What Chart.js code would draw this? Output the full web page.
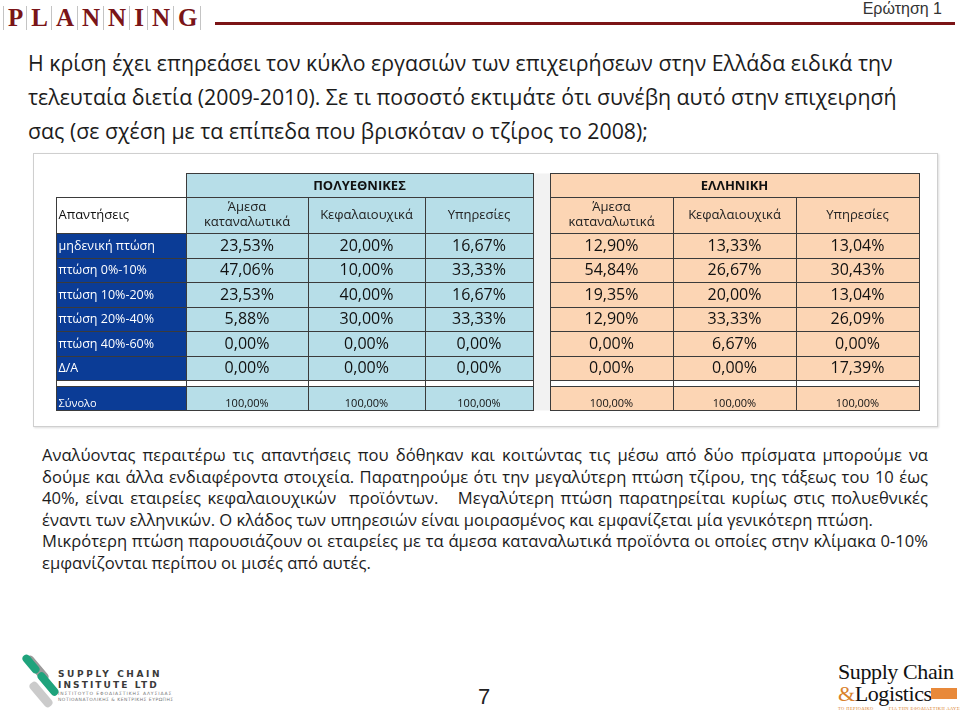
<!DOCTYPE html>
<html>
<head>
<meta charset="utf-8">
<script src="https://cdn.jsdelivr.net/npm/chart.js@4.4.1/dist/chart.umd.min.js"></script>
<style>
body{margin:0;width:960px;height:718px;position:relative;background:#fff;font-family:'Open Sans',sans-serif;overflow:hidden;color:#1a1a1a}
.abs{position:absolute;white-space:nowrap}
#logo{left:3px;top:6px;display:flex;height:24px;font-family:'Liberation Serif',serif;font-weight:bold;font-size:25px;line-height:24px;color:#7a1518}
#logo span{border-left:1px solid #c4c4c4;padding:0 3px 0 4px}
#logo span:last-child{border-right:1px solid #c4c4c4}
#rule{left:215px;top:22px;width:740px;height:3px;background:#7b1416}
#q{right:18px;top:0;font-family:'Liberation Sans',sans-serif;font-size:16px;color:#333}
#title{left:28px;top:46px;line-height:34px;color:#1c1c1c}
#box{left:33px;top:153px;width:903px;height:272px;border:1px solid #cfcfcf;box-shadow:1px 1px 2px #ddd;background:#fff}
#wrap{left:55px;top:172px;width:865px;height:239px}
#para{left:42px;top:444px;width:886px;line-height:21.6px;color:#1c1c1c}
#para div.j{text-align:justify;text-align-last:justify}
#page{left:478px;top:684px;font-family:'Liberation Sans',sans-serif;font-size:22px;color:#222}
.bar{position:absolute;border-radius:4px}
#sci{left:58px;top:669px;font-family:'DejaVu Sans',sans-serif;font-weight:bold;color:#3a3a3a}
#scl{left:838px;top:661px;font-family:'Liberation Serif',serif;color:#111;line-height:22px}
</style>
</head>
<body>
<div id="logo" class="abs"><span>P</span><span>L</span><span>A</span><span>N</span><span>N</span><span>I</span><span>N</span><span>G</span></div>
<div id="rule" class="abs"></div>
<div id="q" class="abs">Ερώτηση 1</div>

<div id="title" class="abs">
<div id="t1">Η κρίση έχει επηρεάσει τον κύκλο εργασιών των επιχειρήσεων στην Ελλάδα ειδικά την</div>
<div>τελευταία διετία (2009-2010). Σε τι ποσοστό εκτιμάτε ότι συνέβη αυτό στην επιχειρησή</div>
<div>σας (σε σχέση με τα επίπεδα που βρισκόταν ο τζίρος το 2008);</div>
</div>

<div id="box" class="abs"></div>
<div id="wrap" class="abs"><canvas id="table" width="865" height="239"></canvas></div>

<div id="para" class="abs">
<div class="j">Αναλύοντας περαιτέρω τις απαντήσεις που δόθηκαν και κοιτώντας τις μέσω από δύο πρίσματα μπορούμε να</div>
<div class="j">δούμε και άλλα ενδιαφέροντα στοιχεία. Παρατηρούμε ότι την μεγαλύτερη πτώση τζίρου, της τάξεως του 10 έως</div>
<div class="j">40%, είναι εταιρείες κεφαλαιουχικών &nbsp;προϊόντων. &nbsp; Μεγαλύτερη πτώση παρατηρείται κυρίως στις πολυεθνικές</div>
<div><span id="p4">έναντι των ελληνικών. Ο κλάδος των υπηρεσιών είναι μοιρασμένος και εμφανίζεται μία γενικότερη πτώση.</span></div>
<div class="j">Μικρότερη πτώση παρουσιάζουν οι εταιρείες με τα άμεσα καταναλωτικά προϊόντα οι οποίες στην κλίμακα 0-10%</div>
<div>εμφανίζονται περίπου οι μισές από αυτές.</div>
</div>

<!-- footer logos -->
<div class="bar" style="left:22px;top:664px;width:30px;height:9px;background:#9a9a9a;transform:rotate(50deg)"></div>
<div class="bar" style="left:20px;top:660px;width:22px;height:8px;background:#1fa37c;transform:rotate(50deg)"></div>
<div class="bar" style="left:34px;top:680px;width:28px;height:8px;background:#1fa37c;transform:rotate(50deg)"></div>
<div class="bar" style="left:26px;top:690px;width:30px;height:9px;background:#b5b5b5;transform:rotate(50deg);opacity:.7"></div>
<div id="sci" class="abs">
<div style="font-size:9px;letter-spacing:2.6px;line-height:11px">SUPPLY CHAIN</div>
<div style="font-size:9px;letter-spacing:2.1px;line-height:11px">INSTITUTE LTD</div>
<div style="font-size:4.5px;letter-spacing:.9px;line-height:6px;font-weight:normal;color:#777">ΙΝΣΤΙΤΟΥΤΟ ΕΦΟΔΙΑΣΤΙΚΗΣ ΑΛΥΣΙΔΑΣ</div>
<div style="font-size:4.5px;letter-spacing:.5px;line-height:6px;font-weight:normal;color:#777">ΝΟΤΙΟΑΝΑΤΟΛΙΚΗΣ &amp; ΚΕΝΤΡΙΚΗΣ ΕΥΡΩΠΗΣ</div>
</div>
<div id="page" class="abs">7</div>
<div id="scl" class="abs">
<div style="font-size:22px;letter-spacing:-.4px">Supply Chain</div>
<div style="font-size:22px;letter-spacing:-.4px"><span style="color:#d9822b">&amp;</span>Logistics</div>
<div style="font-size:4.5px;line-height:7px;color:#d9822b;letter-spacing:.4px">ΤΟ ΠΕΡΙΟΔΙΚΟ &nbsp;&nbsp;&nbsp;&nbsp;&nbsp;&nbsp;&nbsp;&nbsp; ΓΙΑ ΤΗΝ ΕΦΟΔΙΑΣΤΙΚΗ ΑΛΥΣΙΔΑ</div>
</div>
<div class="abs" style="left:931px;top:688px;width:26px;height:11px;background:#e8893a"></div>

<script>
// table data
const rowLabels = ["μηδενική πτώση", "πτώση 0%-10%", "πτώση 10%-20%", "πτώση 20%-40%", "πτώση 40%-60%", "Δ/Α"];
const groups = ["ΠΟΛΥΕΘΝΙΚΕΣ", "ΕΛΛΗΝΙΚΗ"];
const subHeaders = [["Άμεσα", "καταναλωτικά"], ["Κεφαλαιουχικά"], ["Υπηρεσίες"]];
const polyAmesa = [23.53, 47.06, 23.53, 5.88, 0, 0];
const polyKef = [20.00, 10.00, 40.00, 30.00, 0, 0];
const polyYp = [16.67, 33.33, 16.67, 33.33, 0, 0];
const ellAmesa = [12.90, 54.84, 19.35, 12.90, 0, 0];
const ellKef = [13.33, 26.67, 20.00, 33.33, 6.67, 0];
const ellYp = [13.04, 30.43, 13.04, 26.09, 0, 17.39];
const totalLabel = "Σύνολο";
const totals = [100, 100, 100, 100, 100, 100];

// layout: relative column widths / row heights of the grid
const colWidths = [130, 122, 117, 108, 17, 123, 123, 123];
const rowHeights = [24, 36, 24.5, 24.5, 24.5, 24.5, 24.5, 24.5, 6, 24];

const colEdges = [0];
colWidths.forEach((w) => colEdges.push(colEdges[colEdges.length - 1] + w));
const rowEdges = [0];
rowHeights.forEach((h) => rowEdges.push(rowEdges[rowEdges.length - 1] + h));

const series = [polyAmesa, polyKef, polyYp, ellAmesa, ellKef, ellYp];
const valueCols = [1, 2, 3, 5, 6, 7];
const DARK = "#0b3c96", BLUE = "#b7dee8", PEACH = "#fcd5b4", GAP = "#f2f2f2", LINE = "#3b3b3b";
const fmt = (v) => v.toFixed(2).replace(".", ",") + "%";

const tablePlugin = {
	id: "table",
	afterDraw(chart) {
		const { ctx } = chart;
		const x = chart.scales.x, y = chart.scales.y;
		const px = (c) => Math.round(x.getPixelForValue(colEdges[c])) + 0.5;
		const py = (r) => Math.round(y.getPixelForValue(rowEdges[r])) + 0.5;
		const cell = (c0, c1, r0, r1, fill, stroke) => {
			const X0 = px(c0), X1 = px(c1), Y0 = py(r0), Y1 = py(r1);
			ctx.fillStyle = fill;
			ctx.fillRect(X0, Y0, X1 - X0, Y1 - Y0);
			if (stroke) {
				ctx.strokeStyle = LINE;
				ctx.lineWidth = 1;
				ctx.strokeRect(X0, Y0, X1 - X0, Y1 - Y0);
			}
		};
		const text = (s, c0, c1, yy, font, color, align) => {
			ctx.font = font;
			ctx.fillStyle = color;
			ctx.textBaseline = "middle";
			ctx.textAlign = align || "center";
			const X = align == "left" ? px(c0) + 2 : (x.getPixelForValue(colEdges[c0]) + x.getPixelForValue(colEdges[c1])) / 2;
			ctx.fillText(s, X, yy);
		};
		const mid = (r) => (y.getPixelForValue(rowEdges[r]) + y.getPixelForValue(rowEdges[r + 1])) / 2;

		ctx.save();
		// gap column between the two tables
		cell(4, 5, 0, 10, GAP, false);
		// group headers
		cell(1, 4, 0, 1, BLUE, true);
		cell(5, 8, 0, 1, PEACH, true);
		text(groups[0], 1, 4, mid(0) + 1, "bold 13px 'Open Sans'", "#111");
		text(groups[1], 5, 8, mid(0) + 1, "bold 13px 'Open Sans'", "#111");
		// sub headers
		cell(0, 1, 1, 2, "#fff", true);
		text("Απαντήσεις", 0, 1, mid(1), "13px 'Open Sans'", "#111", "left");
		valueCols.forEach((c, i) => {
			cell(c, c + 1, 1, 2, i < 3 ? BLUE : PEACH, true);
			const lines = subHeaders[i % 3];
			lines.forEach((s, k) => {
				text(s, c, c + 1, mid(1) + (k - (lines.length - 1) / 2) * 15, "13px 'Open Sans'", "#222");
			});
		});
		// data rows
		rowLabels.forEach((lab, r) => {
			const row = r + 2;
			cell(0, 1, row, row + 1, DARK, true);
			text(lab, 0, 1, mid(row) + 1, "12.5px 'Open Sans'", "#fff", "left");
			valueCols.forEach((c, i) => {
				cell(c, c + 1, row, row + 1, i < 3 ? BLUE : PEACH, true);
				text(fmt(series[i][r]), c, c + 1, mid(row) + 1, "16px 'Open Sans'", "#111");
			});
		});
		// empty spacer row
		[0].concat(valueCols).forEach((c) => cell(c, c + 1, 8, 9, "#fff", true));
		// totals
		cell(0, 1, 9, 10, DARK, true);
		text(totalLabel, 0, 1, mid(9) + 6, "11px 'Open Sans'", "#fff", "left");
		valueCols.forEach((c, i) => {
			cell(c, c + 1, 9, 10, i < 3 ? BLUE : PEACH, true);
			text(fmt(totals[i]), c, c + 1, mid(9) + 6, "11px 'Open Sans'", "#111");
		});
		ctx.restore();
	},
};

new Chart(document.getElementById("table"), {
	type: "scatter",
	data: { datasets: [] },
	options: {
		responsive: false,
		animation: false,
		events: [],
		layout: { padding: 1 },
		plugins: { legend: { display: false }, tooltip: { enabled: false } },
		scales: {
			x: { type: "linear", display: false, min: 0, max: colEdges[colEdges.length - 1] },
			y: { type: "linear", display: false, reverse: true, min: 0, max: rowEdges[rowEdges.length - 1] },
		},
	},
	plugins: [tablePlugin],
});

// fit text sizes to the slide widths
const fit = (el, box, target) => {
	box.style.fontSize = "20px";
	const w = el.getBoundingClientRect().width;
	box.style.fontSize = (20 * target / w).toFixed(2) + "px";
};
const t1 = document.getElementById("t1");
t1.style.display = "inline-block";
fit(t1, document.getElementById("title"), 865);
fit(document.getElementById("p4"), document.getElementById("para"), 831);
</script>
</body>
</html>
